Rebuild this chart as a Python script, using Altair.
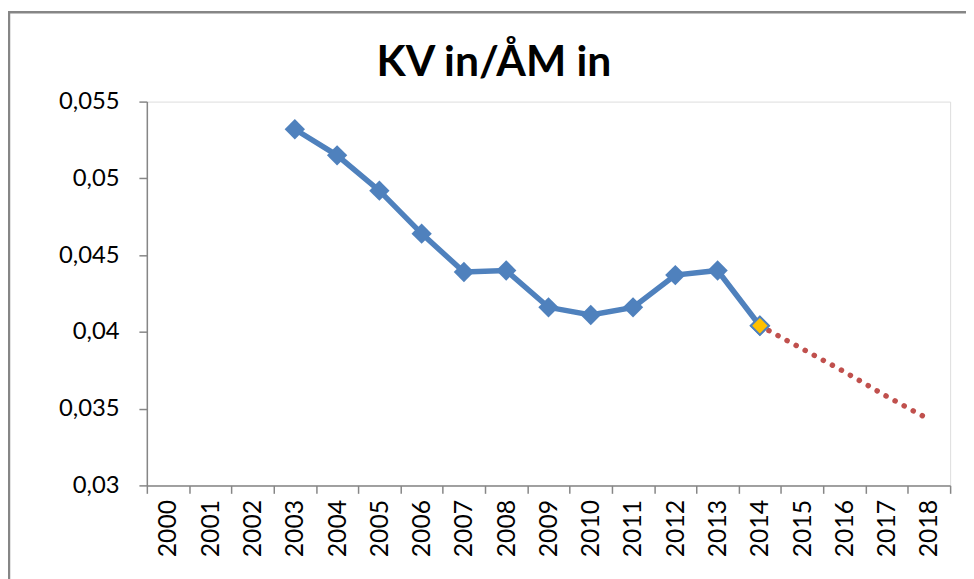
import altair as alt
import pandas as pd

years = ["2000", "2001", "2002", "2003", "2004", "2005", "2006", "2007", "2008", "2009",
         "2010", "2011", "2012", "2013", "2014", "2015", "2016", "2017", "2018"]
kv_years = ["2003", "2004", "2005", "2006", "2007", "2008", "2009", "2010", "2011", "2012", "2013", "2014"]
kv_values = [0.0532, 0.0515, 0.0492, 0.0464, 0.0439, 0.0440, 0.0416, 0.0411, 0.0416, 0.0437, 0.0440, 0.0404]
highlight_year = ["2014"]
highlight_value = [0.0404]
trend_years = ["2014", "2015", "2016", "2017", "2018"]
trend_values = [0.0404, 0.0389, 0.0374, 0.0358, 0.0343]
y_ticks = [0.03, 0.035, 0.04, 0.045, 0.05, 0.055]

W, H = 810, 387
FONT = "Lato"

kv_df = pd.DataFrame({"year": kv_years, "value": kv_values})
hl_df = pd.DataFrame({"year": highlight_year, "value": highlight_value})
tr_df = pd.DataFrame({"year": trend_years, "value": trend_values})

x_enc = alt.X(
    "year:O",
    scale=alt.Scale(domain=years, type="band", paddingInner=0, paddingOuter=0),
    axis=alt.Axis(
        title=None, labelAngle=-90, tickBand="extent", labelFontSize=25,
        labelColor="black", domainColor="#868686", tickColor="#868686",
        tickSize=8, labelPadding=6, labelFont=FONT, labelBaseline="middle",
        labelAlign="right", domainWidth=1.5, tickWidth=1.5,
    ),
)
y_enc = alt.Y(
    "value:Q",
    scale=alt.Scale(domain=[0.03, 0.055], nice=False, zero=False),
    axis=alt.Axis(
        title=None, values=y_ticks, grid=False,
        labelExpr="replace(format(datum.value, '.3~f'), '.', ',')",
        labelFontSize=24, labelColor="black", labelFont=FONT,
        domainColor="#868686", tickColor="#868686", tickSize=8,
        labelPadding=20, domainWidth=1.5, tickWidth=1.5,
    ),
)

frame = alt.Chart(pd.DataFrame({"a": [0]})).mark_rect(
    fill="transparent", stroke="#868686", strokeWidth=2.5
).encode(
    x=alt.value(-139), x2=alt.value(W + 60),
    y=alt.value(-90), y2=alt.value(H + 150),
)

trend = alt.Chart(tr_df).mark_line(
    color="#C0504D", strokeWidth=5.5, strokeDash=[0.1, 10.3], strokeCap="round"
).encode(x=x_enc, y=y_enc)

line = alt.Chart(kv_df).mark_line(
    color="#4F81BD", strokeWidth=5.5,
    point=alt.OverlayMarkDef(shape="diamond", size=420, filled=True, color="#4F81BD"),
).encode(x=x_enc, y=y_enc)

hl = alt.Chart(hl_df).mark_point(
    shape="diamond", size=340, filled=True, fill="#FFC000", stroke="#4F81BD",
    strokeWidth=2, opacity=1,
).encode(x=x_enc, y=y_enc)

chart = alt.layer(frame, trend, line, hl).properties(
    width=W, height=H,
    title=alt.TitleParams(
        "KV in/ÅM in", fontSize=43, font=FONT, fontWeight="bold", color="black",
        anchor="middle", frame="group", dx=-55, offset=0, baseline="alphabetic", dy=108,
    ),
    autosize=alt.AutoSizeParams(type="none"),
    padding={"left": 140, "top": 92, "right": 16, "bottom": 92},
).configure_view(stroke=None).configure(background="white")

chart.save("out.html", embed_options={"renderer": "svg", "actions": False})
